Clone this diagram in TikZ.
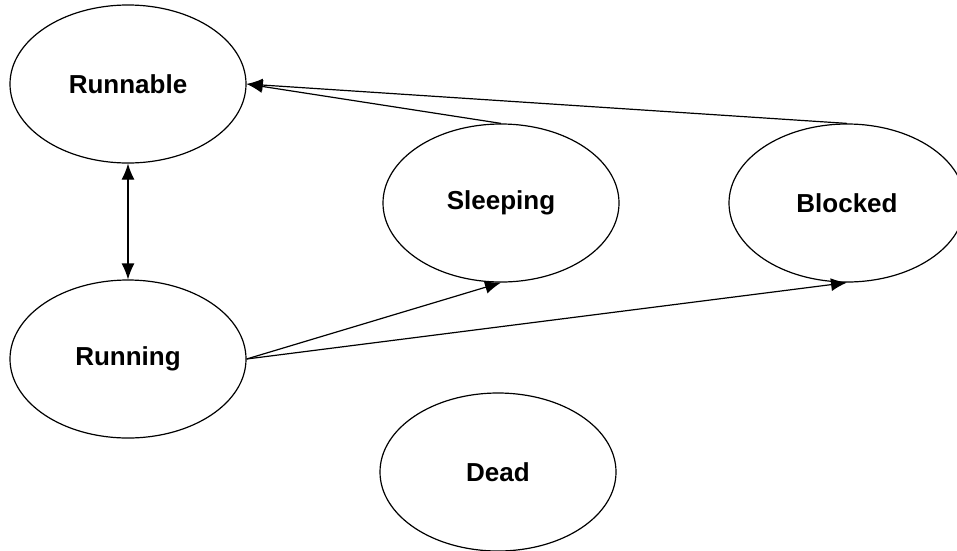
\documentclass[tikz,border=0pt]{standalone}
\usepackage{fontspec}
\setmainfont{Liberation Sans}
\usetikzlibrary{shapes.geometric,arrows.meta}

\tikzset{
  state/.style={draw, ellipse, line width=1.2pt, minimum width=236pt, minimum height=158pt,
    inner sep=0pt, font=\fontsize{26}{31}\selectfont\bfseries},
  tip/.tip={Latex[length=16pt,width=13pt]},
  trans/.style={line width=1.2pt, -tip},
  both/.style={line width=1.2pt, tip-tip}
}

\begin{document}
\begin{tikzpicture}[x=1pt,y=-1pt]
  \useasboundingbox (0,0) rectangle (957,550);
  \node[state] (runnable) at (128,84) {Runnable};
  \node[state] (running) at (128,359) {Running};
  \node[state] (sleeping) at (501,203) {Sleeping};
  \node[state] (blocked) at (847,203) {Blocked};
  \node[state] (dead) at (498,472) {Dead};
  \draw[both] (runnable) -- (running);
  \draw[trans] (running.east) -- (sleeping.south);
  \draw[trans] (running.east) -- (blocked.south);
  \draw[trans] (sleeping.north) -- (runnable.east);
  \draw[trans] (blocked.north) -- (runnable.east);
\end{tikzpicture}
\end{document}
